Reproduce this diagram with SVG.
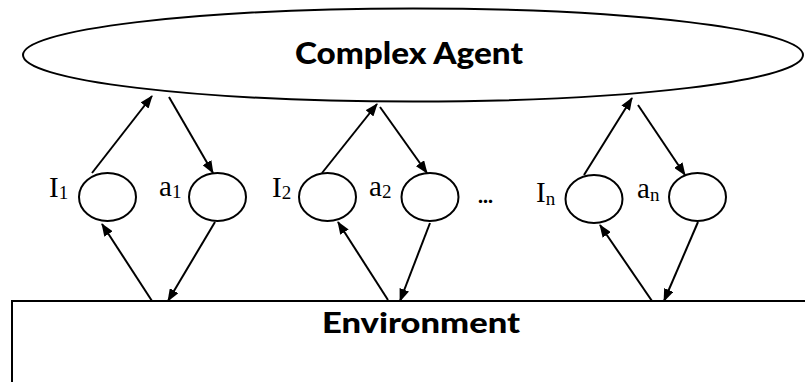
<svg xmlns="http://www.w3.org/2000/svg" width="805" height="382" viewBox="0 0 805 382">
  <style>
    .shape { fill: #ffffff; stroke: #000000; stroke-width: 2; }
    .edge { fill: none; stroke: #000000; stroke-width: 2; marker-end: url(#head); }
    .title { font-family: Lato, "Open Sans", sans-serif; font-weight: 900; fill: #000000; text-anchor: middle; }
    .sym { font-family: "Liberation Serif", "Times New Roman", serif; font-size: 29px; fill: #000000; }
    .sub { font-size: 19px; }
  </style>
  <defs>
    <marker id="head" markerUnits="userSpaceOnUse" markerWidth="13" markerHeight="10" refX="12" refY="5" orient="auto">
      <path d="M0,0 L13,5 L0,10 z" fill="#000000"/>
    </marker>
  </defs>

  <rect width="805" height="382" fill="#ffffff"/>

  <!-- agent -->
  <g id="agent">
    <ellipse class="shape" cx="413" cy="55" rx="390" ry="46.5"/>
    <text class="title" x="409" y="64" font-size="31" textLength="228" lengthAdjust="spacingAndGlyphs">Complex Agent</text>
  </g>

  <!-- environment -->
  <g id="environment">
    <path class="shape" d="M12,382 V301 H806" fill="none"/>
    <text class="title" x="421" y="333" font-size="29" textLength="198" lengthAdjust="spacingAndGlyphs">Environment</text>
  </g>

  <!-- sensor / actuator nodes -->
  <g id="I1">
    <ellipse class="shape" cx="107.5" cy="197" rx="28.5" ry="24"/>
    <text class="sym" x="49" y="197">I<tspan class="sub" dy="2">1</tspan></text>
  </g>
  <g id="a1">
    <ellipse class="shape" cx="217.5" cy="197" rx="28.5" ry="24"/>
    <text class="sym" x="159" y="196">a<tspan class="sub" dy="2">1</tspan></text>
  </g>
  <g id="I2">
    <ellipse class="shape" cx="327.5" cy="197" rx="28.5" ry="24"/>
    <text class="sym" x="272" y="197">I<tspan class="sub" dy="2">2</tspan></text>
  </g>
  <g id="a2">
    <ellipse class="shape" cx="430" cy="197" rx="28.5" ry="24"/>
    <text class="sym" x="369" y="196">a<tspan class="sub" dy="2">2</tspan></text>
  </g>
  <g id="ellipsis">
    <text x="478" y="203" font-family="Lato, 'Open Sans', sans-serif" font-weight="900" font-size="21" fill="#000000">...</text>
  </g>
  <g id="In">
    <ellipse class="shape" cx="594" cy="199" rx="28.5" ry="24"/>
    <text class="sym" x="536" y="202">I<tspan class="sub" dy="3">n</tspan></text>
  </g>
  <g id="an">
    <ellipse class="shape" cx="697.5" cy="197" rx="28.5" ry="24"/>
    <text class="sym" x="637" y="198">a<tspan class="sub" dy="3">n</tspan></text>
  </g>

  <!-- connectors -->
  <g id="connectors">
    <!-- percepts up to the agent -->
    <line class="edge" x1="92" y1="173" x2="152" y2="96"/>
    <line class="edge" x1="322" y1="173" x2="377" y2="104"/>
    <line class="edge" x1="584" y1="175" x2="632" y2="98"/>
    <!-- actions down from the agent -->
    <line class="edge" x1="169" y1="97" x2="213" y2="173"/>
    <line class="edge" x1="380" y1="107" x2="427" y2="173"/>
    <line class="edge" x1="638" y1="105" x2="685" y2="175"/>
    <!-- environment up to sensors -->
    <line class="edge" x1="152" y1="301" x2="102" y2="224"/>
    <line class="edge" x1="388" y1="300" x2="338" y2="222"/>
    <line class="edge" x1="652" y1="301" x2="600" y2="225"/>
    <!-- actuators down to environment -->
    <line class="edge" x1="215" y1="222" x2="168" y2="301"/>
    <line class="edge" x1="430" y1="223" x2="400" y2="301"/>
    <line class="edge" x1="698" y1="222" x2="664" y2="301"/>
  </g>
</svg>
